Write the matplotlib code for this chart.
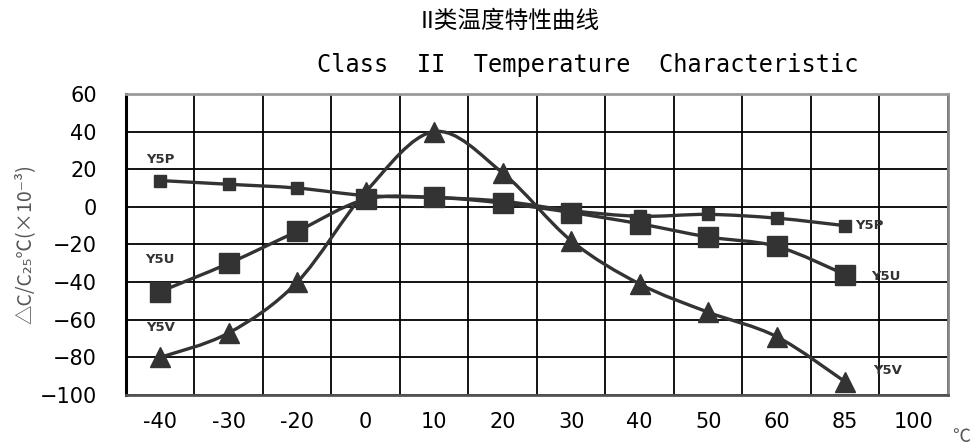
import numpy as np
import matplotlib.pyplot as plt
from matplotlib.path import Path
from matplotlib.patches import PathPatch

# temperature categories (evenly spaced on the chart)
temps = ['-40', '-30', '-20', '0', '10', '20', '30', '40', '50', '60', '85', '100']
y5p = [14, 12, 10, 6, 5, 3, -2, -5, -4, -6, -10]
y5u = [-45, -30, -13, 4, 5, 2, -3, -9, -16, -21, -36]
y5v = [-80, -67, -40, 8, 40, 18, -18, -41, -56, -69, -93]
yticks = [60, 40, 20, 0, -20, -40, -60, -80, -100]

dark = '#333333'


def smooth_path(xs, ys):
    # catmull-rom style bezier through the points (like excel "smoothed line")
    pts = np.column_stack([xs, ys]).astype(float)
    verts = [pts[0]]
    codes = [Path.MOVETO]
    n = len(pts)
    for i in range(n - 1):
        p0 = pts[i - 1] if i > 0 else pts[i]
        p1 = pts[i]
        p2 = pts[i + 1]
        p3 = pts[i + 2] if i + 2 < n else pts[i + 1]
        c1 = p1 + (p2 - p0) / 6.0
        c2 = p2 - (p3 - p1) / 6.0
        verts += [c1, c2, p2]
        codes += [Path.CURVE4] * 3
    return Path(verts, codes)


fig = plt.figure(figsize=(9.79, 4.48), dpi=100)
ax = fig.add_axes([0.1287, 0.1183, 0.8396, 0.6719])

for vals, mk, ms in [(y5p, 's', 8), (y5u, 's', 14), (y5v, '^', 14)]:
    xs = np.arange(len(vals))
    ax.add_patch(PathPatch(smooth_path(xs, vals), fill=False, edgecolor=dark,
                           lw=2.4, zorder=3, capstyle='round'))
    ax.plot(xs, vals, linestyle='none', marker=mk, ms=ms, color=dark, zorder=4)

ax.set_xlim(-0.5, len(temps) - 0.5)
ax.set_ylim(-100, 60)
ax.set_xticks(np.arange(len(temps)))
ax.set_xticklabels(temps)
ax.set_xticks(np.arange(len(temps) + 1) - 0.5, minor=True)
ax.set_yticks(yticks)
ax.tick_params(axis='both', which='both', length=0, labelsize=15)
ax.tick_params(axis='x', pad=12)
ax.tick_params(axis='y', pad=21)
ax.grid(True, which='minor', axis='x', color='black', lw=1.3)
ax.grid(True, which='major', axis='y', color='black', lw=1.3)
ax.grid(False, which='major', axis='x')

ax.spines['left'].set_linewidth(2.2)
ax.spines['left'].set_color('black')
ax.spines['bottom'].set_linewidth(2.0)
ax.spines['bottom'].set_color('#555555')
ax.spines['top'].set_linewidth(2.0)
ax.spines['top'].set_color('#9a9a9a')
ax.spines['right'].set_linewidth(2.0)
ax.spines['right'].set_color('#888888')

# series labels
lab = dict(fontsize=9.5, fontweight='bold', color=dark, family='DejaVu Sans Condensed')
ax.text(0, 25, 'Y5P', ha='center', va='center', **lab)
ax.text(0, -28, 'Y5U', ha='center', va='center', **lab)
ax.text(0, -64, 'Y5V', ha='center', va='center', **lab)
ax.text(10.35, -10, 'Y5P', ha='center', va='center', **lab)
ax.text(10.6, -37, 'Y5U', ha='center', va='center', **lab)
ax.text(10.62, -87, 'Y5V', ha='center', va='center', **lab)

ax.set_ylabel('△C/C₂₅℃(×10⁻³)', fontsize=14, color='#555555',
              family=['Noto Sans CJK SC', 'DejaVu Sans'], labelpad=3)

fig.text(0.5215, 0.953, 'II类温度特性曲线', ha='center', va='center', fontsize=17,
         family=['Noto Sans CJK SC', 'DejaVu Sans'])
fig.text(0.600, 0.855, 'Class  II  Temperature  Characteristic', ha='center',
         va='center', fontsize=17, family='DejaVu Sans Mono')
fig.text(0.982, 0.025, '℃', ha='center', va='center', fontsize=13, color='#555555',
         family=['Noto Sans CJK SC', 'DejaVu Sans'])

fig.savefig('out.png', dpi=100)
